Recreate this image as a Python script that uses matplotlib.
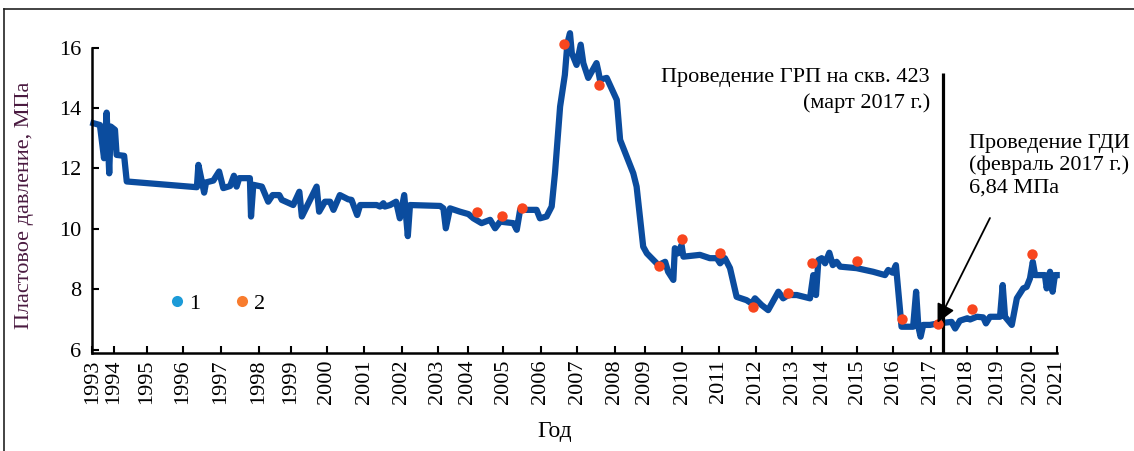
import numpy as np
import matplotlib
matplotlib.use('Agg')
import matplotlib.pyplot as plt
from matplotlib.lines import Line2D

plt.rcParams['font.family'] = ['Liberation Serif', 'DejaVu Serif']
plt.rcParams['font.size'] = 16

# pressure history (decimal year, MPa)
years = [1993.05, 1993.35, 1993.54, 1993.66, 1993.78, 1993.85, 1994.03, 1994.08, 1994.31, 1994.39,
         1996.37, 1996.41, 1996.56, 1996.61, 1996.80, 1996.95, 1997.06, 1997.24, 1997.34, 1997.41,
         1997.48, 1997.76, 1997.79, 1997.85, 1998.09, 1998.29, 1998.43, 1998.64, 1998.72, 1999.07,
         1999.24, 1999.31, 1999.72, 1999.79, 1999.95, 2000.09, 2000.18, 2000.35, 2000.57, 2000.66,
         2000.81, 2000.89, 2001.33, 2001.42, 2001.51, 2001.55, 2001.69, 2001.85, 2001.95, 2002.07,
         2002.17, 2002.23, 2003.08, 2003.19, 2003.27, 2003.41, 2003.74, 2004.02, 2004.16, 2004.39,
         2004.63, 2004.77, 2004.91, 2005.27, 2005.36, 2005.45, 2005.89, 2005.98, 2006.16, 2006.30,
         2006.39, 2006.53, 2006.66, 2006.73, 2006.80, 2006.85, 2006.98, 2007.09, 2007.16, 2007.29,
         2007.51, 2007.56, 2007.60, 2007.78, 2008.06, 2008.17, 2008.61, 2008.72, 2008.94, 2009.05,
         2009.36, 2009.54, 2009.62, 2009.76, 2009.80, 2009.89, 2009.98, 2010.03, 2010.48, 2010.75,
         2010.94, 2011.03, 2011.16, 2011.30, 2011.48, 2011.75, 2011.89, 2011.98, 2012.16, 2012.34,
         2012.62, 2012.75, 2012.89, 2013.15, 2013.59, 2013.70, 2013.79, 2013.87, 2013.98, 2014.08,
         2014.20, 2014.30, 2014.41, 2014.51, 2014.98, 2015.44, 2015.77, 2015.86, 2015.98, 2016.07,
         2016.22, 2016.53, 2016.61, 2016.67, 2016.73, 2016.80, 2016.98, 2017.21, 2017.58, 2017.68,
         2017.81, 2018.02, 2018.11, 2018.33, 2018.54, 2018.63, 2018.76, 2019.08, 2019.16, 2019.23,
         2019.43, 2019.58, 2019.77, 2019.87, 2019.97, 2020.07, 2020.16, 2020.54, 2020.61, 2020.74,
         2020.84, 2020.93, 2021.00]
pressure = [13.50, 13.44, 12.34, 13.85, 11.84, 13.39, 13.28, 12.45, 12.42, 11.57,
            11.38, 12.12, 11.20, 11.54, 11.60, 11.90, 11.35, 11.42, 11.76, 11.40,
            11.68, 11.68, 10.41, 11.46, 11.40, 10.90, 11.12, 11.12, 10.96, 10.79,
            11.23, 10.41, 11.40, 10.57, 10.90, 10.90, 10.63, 11.12, 10.98, 10.96,
            10.46, 10.79, 10.79, 10.74, 10.85, 10.74, 10.79, 10.90, 10.35, 11.12,
            9.76, 10.79, 10.76, 10.68, 10.02, 10.68, 10.57, 10.49, 10.35, 10.19,
            10.30, 10.02, 10.24, 10.19, 9.97, 10.63, 10.63, 10.35, 10.41, 10.74,
            11.84, 14.05, 15.10, 16.15, 16.48, 15.82, 15.43, 16.10, 15.49, 15.00,
            15.49, 15.21, 14.94, 15.00, 14.27, 12.95, 11.84, 11.40, 9.41, 9.19,
            8.80, 8.91, 8.58, 8.31, 9.36, 9.19, 9.47, 9.08, 9.14, 9.03,
            9.03, 8.86, 9.03, 8.70, 7.75, 7.64, 7.53, 7.70, 7.48, 7.31,
            7.92, 7.70, 7.81, 7.81, 7.70, 8.47, 7.81, 8.97, 9.03, 8.86,
            9.21, 8.80, 8.91, 8.75, 8.70, 8.58, 8.47, 8.64, 8.55, 8.80,
            6.76, 6.76, 7.92, 6.76, 6.43, 6.82, 6.82, 6.87, 6.92, 6.70,
            6.96, 7.04, 7.00, 7.09, 7.07, 6.87, 7.09, 7.09, 8.14, 7.09,
            6.82, 7.70, 8.03, 8.08, 8.36, 8.91, 8.47, 8.47, 8.03, 8.58,
            7.92, 8.47, 8.47]

# well test measurements
test_years = [2004.25, 2004.96, 2005.49, 2006.64, 2007.57, 2009.38, 2010.00, 2011.03,
              2011.93, 2012.89, 2013.67, 2014.98, 2016.22, 2017.19, 2018.16, 2020.03]
test_pressure = [10.57, 10.44, 10.68, 16.12, 14.75, 8.78, 9.66, 9.20,
                 7.42, 7.87, 8.86, 8.94, 7.01, 6.84, 7.34, 9.16]

frac_year = 2017.33
gdi_year, gdi_value = 2017.19, 6.84

tick_years = list(range(1993, 2022))
# the source axis is not uniform in time: screen position of each year tick
tick_pos = [92.3, 114, 146.7, 182.7, 221, 259, 290.7, 326.7, 364.3, 401.7,
            437.7, 467.7, 503.3, 540.7, 577.3, 615, 645, 682.3, 719, 755.7,
            792.3, 822.3, 857.3, 893.3, 930.7, 966.7, 997.3, 1031, 1056.7]


def fwd(x):
    return np.interp(x, tick_years, tick_pos)


def inv(p):
    return np.interp(p, tick_pos, tick_years)


fig = plt.figure(figsize=(11.34, 4.51), dpi=100)
ax = fig.add_axes([92.3 / 1134, 1 - 352.7 / 451, 964.4 / 1134, 305 / 451])

ax.set_xscale('function', functions=(fwd, inv))
ax.plot(years, pressure, color='#0b4c9e', lw=4.5, solid_joinstyle='round', zorder=2, clip_on=False)
ax.plot(test_years, test_pressure, 'o', color='#f8461e', ms=7.5, mec='none', zorder=4, clip_on=False)

ax.vlines(frac_year, 5.9, 15.17, color='black', lw=2.3, zorder=3)

ax.text(2016.98, 15.33, 'Проведение ГРП на скв. 423\n(март 2017 г.)', ha='right', va='top',
        multialignment='right', linespacing=1.4)
ax.text(2018.08, 13.15, 'Проведение ГДИ\n(февраль 2017 г.)\n6,84 МПа', ha='left', va='top',
        linespacing=1.2)
ax.annotate('', xy=(gdi_year, gdi_value + 0.05), xytext=(2018.76, 10.36),
            arrowprops=dict(arrowstyle='-|>', mutation_scale=28, lw=1.3, color='black',
                            shrinkA=0, shrinkB=0), zorder=5)

handles = [Line2D([], [], marker='o', ls='none', color='#1c9bd8', ms=8, mec='none'),
           Line2D([], [], marker='o', ls='none', color='#f87c2e', ms=8, mec='none')]
ax.legend(handles, ['1', '2'], ncol=2, frameon=False, loc='center left',
          bbox_to_anchor=(0.058, 0.16), handlelength=0.8, handletextpad=0.13,
          columnspacing=1.5, fontsize=16)

ax.set_xlim(1993, 2021)
ax.set_ylim(5.9, 16)
ax.set_xticks(tick_years)
ax.set_xticklabels([str(y) for y in tick_years], rotation=90)
ax.set_xticks([], minor=True)
ax.set_yticks([6, 8, 10, 12, 14, 16])

for s in ['top', 'right']:
    ax.spines[s].set_visible(False)
for s in ['left', 'bottom']:
    ax.spines[s].set_linewidth(1.8)
ax.tick_params(direction='in', length=5, width=1.5, labelsize=16)
ax.tick_params(axis='y', pad=8)
ax.tick_params(axis='x', pad=5)

fig.text(25 / 1134, 1 - 205 / 451, 'Пластовое давление, МПа', rotation=90,
         ha='center', va='center', color='#4a1a40', fontsize=16)
fig.text(555 / 1134, 1 - 432 / 451, 'Год', ha='center', va='center', fontsize=17)

# outer frame of the figure
fig.add_artist(Line2D([0.0035, 0.0035], [0, 0.98], transform=fig.transFigure, color='#222222', lw=1.2))
fig.add_artist(Line2D([0.0035, 1], [0.98, 0.98], transform=fig.transFigure, color='#222222', lw=1.2))

fig.savefig('out.png', dpi=100)
